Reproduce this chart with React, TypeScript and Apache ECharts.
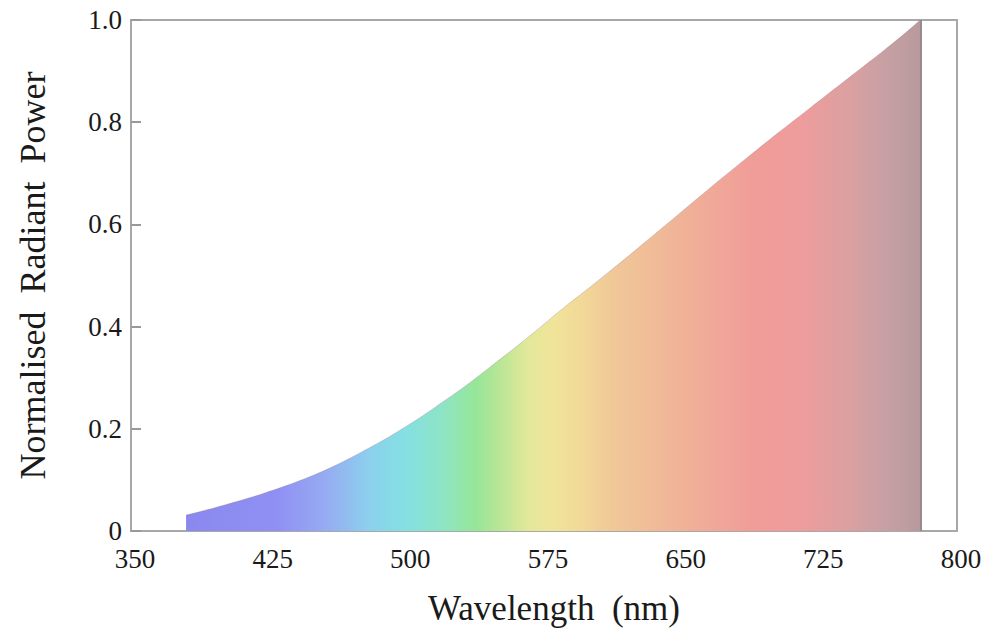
import React, { useEffect, useRef } from "react";
import * as echarts from "echarts";

// Wavelength samples (nm) and normalised radiant power
const wavelengths = [
  380, 390, 400, 410, 420, 430, 440, 450, 460, 470,
  480, 490, 500, 510, 520, 530, 540, 550, 560, 570,
  580, 590, 600, 610, 620, 630, 640, 650, 660, 670,
  680, 690, 700, 710, 720, 730, 740, 750, 760, 770, 780,
];
const power = [
  0.031, 0.040, 0.050, 0.060, 0.071, 0.083, 0.096, 0.110, 0.126, 0.144,
  0.163, 0.183, 0.205, 0.228, 0.253, 0.278, 0.305, 0.333, 0.361, 0.390,
  0.420, 0.449, 0.477, 0.506, 0.535, 0.565, 0.595, 0.625, 0.655, 0.685,
  0.714, 0.743, 0.772, 0.800, 0.828, 0.856, 0.884, 0.912, 0.940, 0.969, 1.000,
];
const xTicks = [350, 425, 500, 575, 650, 725, 800];
const yTicks = [0, 0.2, 0.4, 0.6, 0.8, 1.0];

const FONT = "'Liberation Serif', 'Times New Roman', serif";

// spectral colour stops (style)
const spectrumStops = [
  [380, "#8a88ee"],
  [430, "#9090f4"],
  [455, "#96aaf2"],
  [480, "#8cd0ee"],
  [500, "#84e0e2"],
  [520, "#8ee4c4"],
  [538, "#96e698"],
  [552, "#bce696"],
  [566, "#e2e89a"],
  [580, "#f0e49a"],
  [596, "#f2d898"],
  [612, "#f0c898"],
  [640, "#f0b898"],
  [668, "#f0a898"],
  [690, "#f09c98"],
  [715, "#ee9c9c"],
  [740, "#dca0a0"],
  [760, "#c8a0a4"],
  [780, "#b89a9c"],
] as [number, string][];

export default function App() {
  const ref = useRef<HTMLDivElement>(null);
  useEffect(() => {
    if (!ref.current) return;
    const chart = echarts.init(ref.current, null, { renderer: "svg" });
    const wMin = wavelengths[0];
    const wMax = wavelengths[wavelengths.length - 1];
    const gradient = new echarts.graphic.LinearGradient(
      0, 0, 1, 0,
      spectrumStops.map(([w, c]) => ({ offset: (w - wMin) / (wMax - wMin), color: c }))
    );
    chart.setOption({
      animation: false,
      backgroundColor: "#ffffff",
      grid: {
        left: 131,
        right: 33,
        top: 20,
        bottom: 105,
        show: true,
        borderColor: "#a8a8a8",
        borderWidth: 2,
      },
      xAxis: {
        type: "value",
        min: 350,
        max: 800,
        name: "Wavelength  (nm)",
        nameLocation: "middle",
        nameGap: 60,
        nameTextStyle: { fontFamily: FONT, fontSize: 35, color: "#1a1a1a", padding: [0, 0, 0, 20] },
        axisLine: { show: true, lineStyle: { color: "#a8a8a8", width: 2 } },
        axisTick: { show: false },
        splitLine: { show: false },
        axisLabel: {
          customValues: xTicks,
          fontFamily: FONT,
          fontSize: 27,
          color: "#1a1a1a",
          margin: 14,
          padding: [0, 0, 0, 8],
        },
      },
      yAxis: {
        type: "value",
        min: 0,
        max: 1,
        interval: 0.2,
        name: "Normalised  Radiant  Power",
        nameLocation: "middle",
        nameGap: 80,
        nameTextStyle: { fontFamily: FONT, fontSize: 36, color: "#1a1a1a" },
        axisLine: { show: true, lineStyle: { color: "#a8a8a8", width: 2 } },
        axisTick: { show: true, inside: true, length: 10, lineStyle: { color: "#999", width: 2 } },
        splitLine: { show: false },
        axisLabel: {
          customValues: yTicks,
          fontFamily: FONT,
          fontSize: 27,
          color: "#1a1a1a",
          margin: 9,
          formatter: (v: number) => (v === 0 ? "0" : v.toFixed(1)),
        },
      },
      series: [
        {
          type: "line",
          data: wavelengths.map((w, i) => [w, power[i]]),
          smooth: 0.3,
          symbol: "none",
          lineStyle: { width: 1, color: "rgba(150,120,140,0.3)" },
          areaStyle: { color: gradient, opacity: 1 },
          markLine: {
            silent: true,
            symbol: "none",
            label: { show: false },
            lineStyle: { color: "#9a8a8e", width: 2, type: "solid" },
            data: [[{ coord: [wMax, 0] }, { coord: [wMax, power[power.length - 1]] }]],
          },
        },
      ],
    });
    return () => chart.dispose();
  }, []);
  return (
    <div
      ref={ref}
      style={{ position: "fixed", left: 0, top: 0, width: 990, height: 636, background: "#fff" }}
    />
  );
}
